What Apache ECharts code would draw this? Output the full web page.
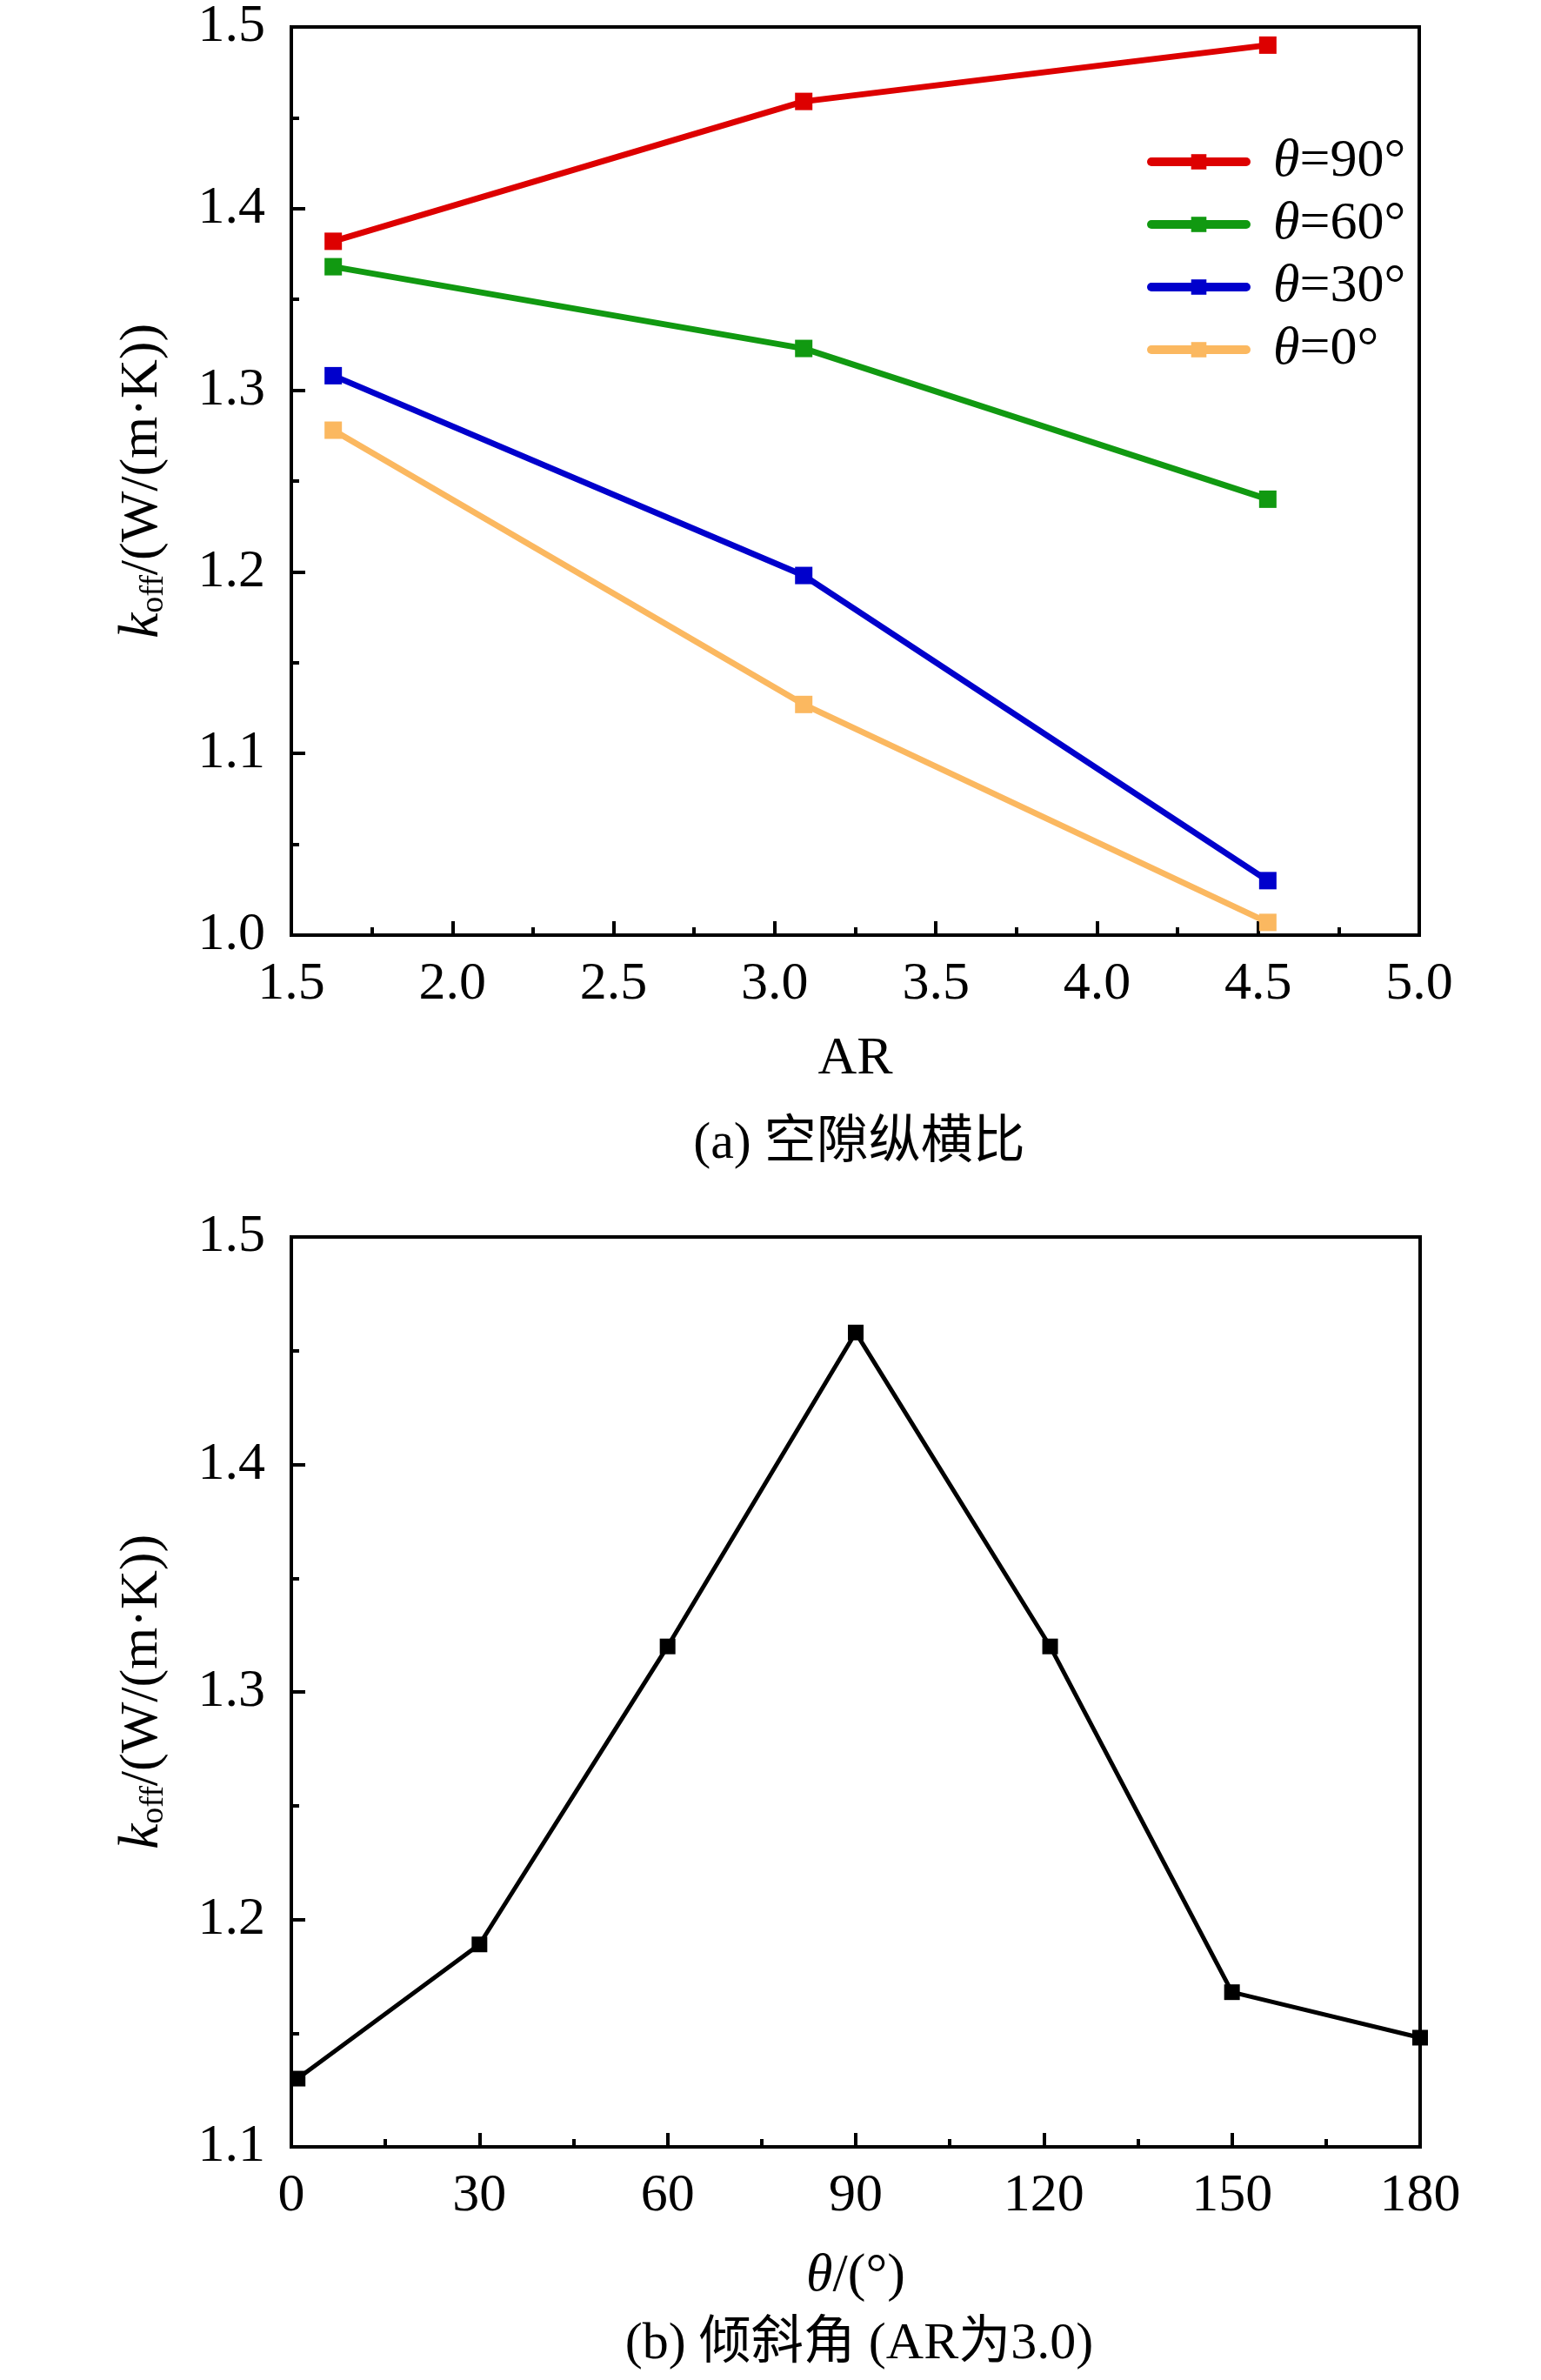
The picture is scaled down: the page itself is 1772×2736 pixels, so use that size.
<!DOCTYPE html>
<html>
<head>
<meta charset="utf-8">
<script src="https://cdn.jsdelivr.net/npm/echarts@6/dist/echarts.min.js"></script>
<style>
  html, body { margin: 0; padding: 0; background: #fff; }
  #main { width: 1772px; height: 2736px; }
</style>
</head>
<body>
<div id="main"></div>
<script>
// (a) 空隙纵横比
const arValues = [1.63, 3.09, 4.53];
const k90 = [1.382, 1.459, 1.490];
const k60 = [1.368, 1.323, 1.240];
const k30 = [1.308, 1.198, 1.030];
const k0 = [1.278, 1.127, 1.007];
const seriesNames = ['θ=90°', 'θ=60°', 'θ=30°', 'θ=0°'];
const seriesColors = ['#dd0000', '#119911', '#0000cc', '#fbb860'];

// (b) 倾斜角 (AR为3.0)
const thetaValues = [1, 30, 60, 90, 121, 150, 180];
const kTheta = [1.130, 1.189, 1.320, 1.458, 1.320, 1.168, 1.148];

const serif = '"Liberation Serif", "Noto Sans CJK SC", serif';
const fs = 62;

let pair = (xs, ys) => xs.map((x, i) => [x, ys[i]]);

const yName = '{k|k}{sub|off}{n|/(W/(m·K))}';
const yRich = {
  k: { fontFamily: serif, fontSize: 66, fontStyle: 'italic', color: '#000', lineHeight: 70 },
  sub: { fontFamily: serif, fontSize: 38, color: '#000', padding: [26, 0, 0, 0], lineHeight: 70 },
  n: { fontFamily: serif, fontSize: fs, color: '#000', lineHeight: 70 }
};

function xAxisOf(grid, min, max, interval, name, digits, gap) {
  return {
    type: 'value', gridIndex: grid, min: min, max: max, interval: interval,
    name: name, nameLocation: 'middle', nameGap: gap,
    nameTextStyle: {
      fontFamily: serif, fontSize: fs, color: '#000',
      rich: { i: { fontFamily: serif, fontSize: fs, fontStyle: 'italic', color: '#000' },
              n: { fontFamily: serif, fontSize: fs, color: '#000' } }
    },
    axisLine: { lineStyle: { color: '#000', width: 4 } },
    axisTick: { inside: true, length: 16, lineStyle: { color: '#000', width: 4 } },
    minorTick: { show: true, splitNumber: 2, length: 9, lineStyle: { color: '#000', width: 4 } },
    splitLine: { show: false },
    axisLabel: { fontFamily: serif, fontSize: fs, color: '#000', margin: 26,
                 formatter: v => v.toFixed(digits) }
  };
}

function yAxisOf(grid, min, max) {
  return {
    type: 'value', gridIndex: grid, min: min, max: max, interval: 0.1,
    name: yName, nameLocation: 'middle', nameGap: 136, nameRotate: 90,
    nameTextStyle: { rich: yRich },
    axisLine: { lineStyle: { color: '#000', width: 4 } },
    axisTick: { inside: true, length: 16, lineStyle: { color: '#000', width: 4 } },
    minorTick: { show: true, splitNumber: 2, length: 9, lineStyle: { color: '#000', width: 4 } },
    splitLine: { show: false },
    axisLabel: { fontFamily: serif, fontSize: fs, color: '#000', margin: 30,
                 formatter: v => v.toFixed(1) }
  };
}

const aData = [k90, k60, k30, k0];
const seriesA = seriesNames.map((name, i) => ({
  name: name, type: 'line', xAxisIndex: 0, yAxisIndex: 0,
  data: pair(arValues, aData[i]),
  symbol: 'rect', symbolSize: 20, showSymbol: true,
  lineStyle: { color: seriesColors[i], width: 7 },
  itemStyle: { color: seriesColors[i] },
  animation: false
}));

const seriesB = {
  name: 'b', type: 'line', xAxisIndex: 1, yAxisIndex: 1,
  data: pair(thetaValues, kTheta),
  symbol: 'rect', symbolSize: 18,
  lineStyle: { color: '#000', width: 5 },
  itemStyle: { color: '#000' },
  animation: false
};

const chart = echarts.init(document.getElementById('main'), null, { renderer: 'canvas' });
chart.setOption({
  backgroundColor: '#fff',
  animation: false,
  grid: [
    { left: 335, right: 140, top: 30, height: 1045, show: true, borderColor: '#000', borderWidth: 4 },
    { left: 335, right: 139, top: 1422, height: 1046, show: true, borderColor: '#000', borderWidth: 4 }
  ],
  xAxis: [
    xAxisOf(0, 1.5, 5.0, 0.5, 'AR', 1, 112),
    xAxisOf(1, 0, 180, 30, '{i|θ}{n|/(°)}', 0, 118)
  ],
  yAxis: [yAxisOf(0, 1.0, 1.5), yAxisOf(1, 1.1, 1.5)],
  legend: {
    data: seriesNames, orient: 'vertical', left: 1314, top: 150,
    itemWidth: 109, itemHeight: 22, itemGap: 10,
    lineStyle: { width: 10, cap: 'round' },
    formatter: n => '{s|}{i|θ}{n|' + n.slice(1) + '}',
    textStyle: {
      rich: {
        s: { width: 26 },
        i: { fontFamily: serif, fontSize: fs, fontStyle: 'italic', color: '#000', lineHeight: 62 },
        n: { fontFamily: serif, fontSize: fs, color: '#000', lineHeight: 62 }
      }
    }
  },
  title: [
    { text: '(a) 空隙纵横比', left: 983, top: 1280, textAlign: 'center',
      textStyle: { fontFamily: serif, fontSize: 60, fontWeight: 'normal', color: '#000' } },
    { text: '(b) 倾斜角 (AR为3.0)', left: 983, top: 2660, textAlign: 'center',
      textStyle: { fontFamily: serif, fontSize: 60, fontWeight: 'normal', color: '#000' } }
  ],
  series: seriesA.concat([seriesB])
});
</script>
</body>
</html>
